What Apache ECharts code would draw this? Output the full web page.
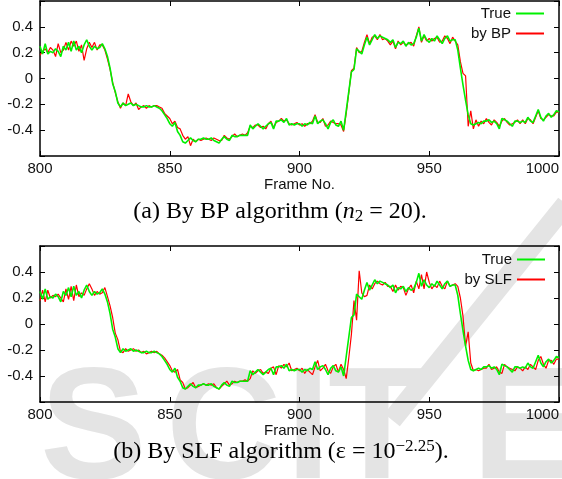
<!DOCTYPE html>
<html>
<head>
<meta charset="utf-8">
<script src="https://cdn.jsdelivr.net/npm/echarts@6/dist/echarts.min.js"></script>
<style>
  html, body { margin: 0; padding: 0; background: #fff; }
  #chart { width: 562px; height: 479px; }
</style>
</head>
<body>
<div id="chart"></div>
<script>
// frame numbers start here, one value per frame
var firstFrame = 800;
var xTicks = [800, 850, 900, 950, 1000];
var yTicks = [-0.4, -0.2, 0, 0.2, 0.4];

var trueVals = [
  0.25, 0.19, 0.27, 0.19, 0.21, 0.20, 0.23, 0.21, 0.17, 0.25,
  0.22, 0.28, 0.21, 0.29, 0.22, 0.25, 0.20, 0.26, 0.30, 0.25,
  0.22, 0.25, 0.23, 0.24, 0.27, 0.23, 0.17, 0.08, -0.04, -0.10,
  -0.19, -0.22, -0.19, -0.21, -0.20, -0.19, -0.21, -0.20, -0.21, -0.22,
  -0.22, -0.21, -0.22, -0.22, -0.21, -0.22, -0.23, -0.25, -0.28, -0.31,
  -0.35, -0.37, -0.34, -0.41, -0.44, -0.49, -0.50, -0.48, -0.46, -0.48,
  -0.49, -0.47, -0.47, -0.46, -0.47, -0.47, -0.46, -0.48, -0.49, -0.50,
  -0.47, -0.45, -0.47, -0.48, -0.44, -0.45, -0.45, -0.44, -0.44, -0.44,
  -0.44, -0.36, -0.39, -0.37, -0.35, -0.37, -0.39, -0.37, -0.35, -0.34,
  -0.39, -0.33, -0.33, -0.32, -0.34, -0.31, -0.36, -0.35, -0.36, -0.35,
  -0.35, -0.37, -0.35, -0.36, -0.34, -0.35, -0.29, -0.35, -0.33, -0.32,
  -0.35, -0.39, -0.34, -0.32, -0.36, -0.37, -0.33, -0.40, -0.25, -0.10,
  0.05, 0.07, 0.23, 0.21, 0.19, 0.26, 0.32, 0.26, 0.30, 0.34,
  0.31, 0.33, 0.32, 0.31, 0.30, 0.28, 0.30, 0.24, 0.28, 0.27,
  0.29, 0.25, 0.28, 0.26, 0.27, 0.32, 0.39, 0.29, 0.34, 0.30,
  0.28, 0.31, 0.29, 0.33, 0.30, 0.27, 0.31, 0.33, 0.29, 0.30,
  0.30, 0.22, 0.08, -0.05, -0.17, -0.28, -0.35, -0.36, -0.35, -0.34,
  -0.35, -0.33, -0.33, -0.32, -0.34, -0.33, -0.35, -0.39, -0.31, -0.32,
  -0.33, -0.35, -0.37, -0.33, -0.33, -0.34, -0.33, -0.34, -0.30, -0.33,
  -0.34, -0.29, -0.24, -0.30, -0.33, -0.29, -0.27, -0.30, -0.28, -0.25,
  -0.26
];

var bpVals = [
  0.18, 0.21, 0.23, 0.20, 0.24, 0.22, 0.17, 0.27, 0.20, 0.22,
  0.28, 0.22, 0.29, 0.25, 0.29, 0.21, 0.26, 0.14, 0.23, 0.28,
  0.24, 0.28, 0.22, 0.26, 0.26, 0.22, 0.15, 0.07, -0.03, -0.11,
  -0.18, -0.23, -0.19, -0.21, -0.12, -0.18, -0.21, -0.19, -0.24, -0.22,
  -0.21, -0.23, -0.21, -0.22, -0.21, -0.21, -0.22, -0.23, -0.27, -0.29,
  -0.31, -0.35, -0.33, -0.38, -0.39, -0.44, -0.47, -0.45, -0.52, -0.47,
  -0.49, -0.47, -0.48, -0.47, -0.46, -0.47, -0.48, -0.46, -0.47, -0.48,
  -0.48, -0.44, -0.46, -0.47, -0.45, -0.43, -0.45, -0.44, -0.43, -0.44,
  -0.42, -0.37, -0.38, -0.36, -0.36, -0.38, -0.37, -0.39, -0.35, -0.33,
  -0.38, -0.34, -0.33, -0.31, -0.33, -0.32, -0.35, -0.36, -0.35, -0.34,
  -0.36, -0.35, -0.37, -0.35, -0.35, -0.33, -0.28, -0.34, -0.34, -0.31,
  -0.37, -0.36, -0.33, -0.34, -0.35, -0.35, -0.36, -0.41, -0.27, -0.11,
  0.06, 0.08, 0.24, 0.20, 0.21, 0.28, 0.34, 0.27, 0.32, 0.33,
  0.30, 0.34, 0.30, 0.31, 0.29, 0.26, 0.29, 0.23, 0.29, 0.26,
  0.28, 0.26, 0.27, 0.28, 0.25, 0.33, 0.40, 0.28, 0.33, 0.29,
  0.31, 0.29, 0.31, 0.32, 0.28, 0.29, 0.33, 0.31, 0.27, 0.32,
  0.29, 0.26, 0.13, 0.04, 0.02, -0.37, -0.25, -0.39, -0.32, -0.37,
  -0.33, -0.35, -0.31, -0.34, -0.36, -0.32, -0.34, -0.37, -0.33, -0.31,
  -0.34, -0.36, -0.35, -0.34, -0.32, -0.35, -0.32, -0.35, -0.31, -0.32,
  -0.35, -0.30, -0.25, -0.31, -0.32, -0.30, -0.28, -0.29, -0.29, -0.26,
  -0.26
];

var slfVals = [
  0.18, 0.26, 0.17, 0.26, 0.20, 0.22, 0.21, 0.23, 0.20, 0.17,
  0.27, 0.19, 0.29, 0.18, 0.30, 0.21, 0.24, 0.22, 0.27, 0.31,
  0.27, 0.22, 0.25, 0.23, 0.24, 0.28, 0.21, 0.14, 0.05, -0.07,
  -0.12, -0.21, -0.22, -0.19, -0.21, -0.20, -0.19, -0.21, -0.20, -0.22,
  -0.21, -0.23, -0.22, -0.21, -0.22, -0.21, -0.23, -0.24, -0.26, -0.29,
  -0.32, -0.36, -0.37, -0.35, -0.43, -0.45, -0.50, -0.49, -0.47, -0.45,
  -0.49, -0.48, -0.47, -0.46, -0.47, -0.46, -0.47, -0.46, -0.49, -0.50,
  -0.48, -0.46, -0.44, -0.47, -0.46, -0.44, -0.45, -0.44, -0.44, -0.43,
  -0.44, -0.42, -0.36, -0.38, -0.36, -0.35, -0.38, -0.37, -0.38, -0.34,
  -0.33, -0.39, -0.32, -0.34, -0.31, -0.33, -0.30, -0.36, -0.35, -0.34,
  -0.36, -0.34, -0.38, -0.35, -0.37, -0.39, -0.33, -0.28, -0.36, -0.34,
  -0.31, -0.36, -0.38, -0.33, -0.31, -0.37, -0.31, -0.35, -0.42, -0.26,
  -0.08, 0.18, 0.03, 0.41, 0.24, 0.21, 0.22, 0.30, 0.27, 0.31,
  0.33, 0.31, 0.30, 0.32, 0.29, 0.29, 0.25, 0.30, 0.26, 0.29,
  0.28, 0.22, 0.27, 0.30, 0.24, 0.33, 0.27, 0.38, 0.27, 0.40,
  0.32, 0.27, 0.30, 0.28, 0.33, 0.29, 0.27, 0.33, 0.29, 0.30,
  0.31, 0.29, 0.20, 0.06, -0.17, -0.06, -0.30, -0.36, -0.35, -0.36,
  -0.35, -0.34, -0.34, -0.31, -0.35, -0.34, -0.33, -0.37, -0.38, -0.31,
  -0.33, -0.34, -0.35, -0.36, -0.33, -0.34, -0.36, -0.33, -0.35, -0.31,
  -0.33, -0.35, -0.28, -0.25, -0.31, -0.34, -0.28, -0.28, -0.31, -0.27,
  -0.27
];

var FONT = "'Liberation Sans', Arial, sans-serif";
var SERIF = "'Liberation Serif', 'Times New Roman', serif";
var GREEN = '#00f000';
var RED = '#ff0000';

function pairs(vals) {
    return vals.map(function (v, i) { return [firstFrame + i, v]; });
}

function yLabel(v) {
    if (Math.abs(v) < 1e-9) return '0';
    if (Math.abs(v) > 0.5) return '';
    return v.toFixed(1);
}

function xAxisFor(grid, pos, showLabel) {
    return {
        type: 'value', gridIndex: grid, position: pos,
        min: xTicks[0], max: xTicks[xTicks.length - 1], interval: 50,
        axisLine: { show: true, onZero: false, lineStyle: { color: '#000', width: 1.5 } },
        axisTick: { show: true, inside: true, length: 5, lineStyle: { color: '#000' } },
        axisLabel: {
            show: showLabel, fontSize: 15, fontFamily: FONT, color: '#111', margin: 5,
            alignMaxLabel: 'right', formatter: function (v) { return String(v); }
        },
        splitLine: { show: false },
        name: showLabel ? 'Frame No.' : '', nameLocation: 'middle', nameGap: 21,
        nameTextStyle: { fontSize: 15, fontFamily: FONT, color: '#111' }
    };
}

function yAxisFor(grid, pos, showLabel) {
    return {
        type: 'value', gridIndex: grid, position: pos,
        min: -0.6, max: 0.6, interval: 0.2,
        axisLine: { show: true, onZero: false, lineStyle: { color: '#000', width: 1.5 } },
        axisTick: { show: true, inside: true, length: 5, lineStyle: { color: '#000' } },
        axisLabel: { show: showLabel, fontSize: 15, fontFamily: FONT, color: '#111', margin: 7, formatter: yLabel },
        splitLine: { show: false }
    };
}

function legendFor(top, right, names) {
    return {
        top: top, right: right, orient: 'vertical', align: 'right',
        icon: 'rect', itemWidth: 28, itemHeight: 2, itemGap: 5, selectedMode: false,
        data: names,
        textStyle: { fontSize: 15, fontFamily: FONT, color: '#111' }
    };
}

function lineSeries(name, vals, xi, yi, color, width, z) {
    return {
        name: name, type: 'line', xAxisIndex: xi, yAxisIndex: yi,
        data: pairs(vals), symbol: 'none', animation: false, z: z,
        lineStyle: { color: color, width: width }, itemStyle: { color: color }
    };
}

var WM = '#e4e4e4';
function wmLetter(ch, x) {
    return {
        type: 'text', z: -10, silent: true,
        style: { text: ch, x: x, y: 354, fontSize: 160, fontWeight: 'bold', fontFamily: FONT, fill: WM, verticalAlign: 'top' }
    };
}

var chart = echarts.init(document.getElementById('chart'), null, { renderer: 'canvas' });
chart.setOption({
    backgroundColor: '#fff',
    animation: false,
    grid: [
        { left: 40, right: 1, top: 1, height: 155 },
        { left: 40, right: 1, top: 246, height: 156 }
    ],
    xAxis: [
        xAxisFor(0, 'bottom', true), xAxisFor(0, 'top', false),
        xAxisFor(1, 'bottom', true), xAxisFor(1, 'top', false)
    ],
    yAxis: [
        yAxisFor(0, 'left', true), yAxisFor(0, 'right', false),
        yAxisFor(1, 'left', true), yAxisFor(1, 'right', false)
    ],
    legend: [
        legendFor(1, 13, ['True', 'by BP']),
        legendFor(247, 12, ['True', 'by SLF'])
    ],
    series: [
        lineSeries('by BP', bpVals, 0, 0, RED, 1.2, 2),
        lineSeries('True', trueVals, 0, 0, GREEN, 1.6, 3),
        lineSeries('by SLF', slfVals, 2, 2, RED, 1.2, 2),
        lineSeries('True', trueVals, 2, 2, GREEN, 1.6, 3)
    ],
    graphic: [
        { type: 'line', z: -10, silent: true, shape: { x1: 566, y1: 204, x2: 392, y2: 420 }, style: { stroke: WM, lineWidth: 20 } },
        wmLetter('S', 40), wmLetter('C', 166), wmLetter('I', 286), wmLetter('T', 328), wmLetter('E', 472),
        {
            type: 'text', z: 10,
            style: {
                x: 280, y: 212, align: 'center', verticalAlign: 'middle',
                text: '{n|(a) By BP algorithm (}{i|n}{sub|2}{n| = 20).}',
                rich: {
                    n: { fontSize: 24, fontFamily: SERIF, fill: '#000', lineHeight: 27 },
                    i: { fontSize: 24, fontFamily: SERIF, fontStyle: 'italic', fill: '#000', lineHeight: 27 },
                    sub: { fontSize: 17, fontFamily: SERIF, fill: '#000', lineHeight: 17, verticalAlign: 'bottom' }
                }
            }
        },
        {
            type: 'text', z: 10,
            style: {
                x: 281, y: 452, align: 'center', verticalAlign: 'middle',
                text: '{n|(b) By SLF algorithm (ε = 10}{sup|−2.25}{n|).}',
                rich: {
                    n: { fontSize: 24, fontFamily: SERIF, fill: '#000', lineHeight: 27 },
                    sup: { fontSize: 17, fontFamily: SERIF, fill: '#000', lineHeight: 17, verticalAlign: 'top' }
                }
            }
        }
    ]
});
</script>
</body>
</html>
